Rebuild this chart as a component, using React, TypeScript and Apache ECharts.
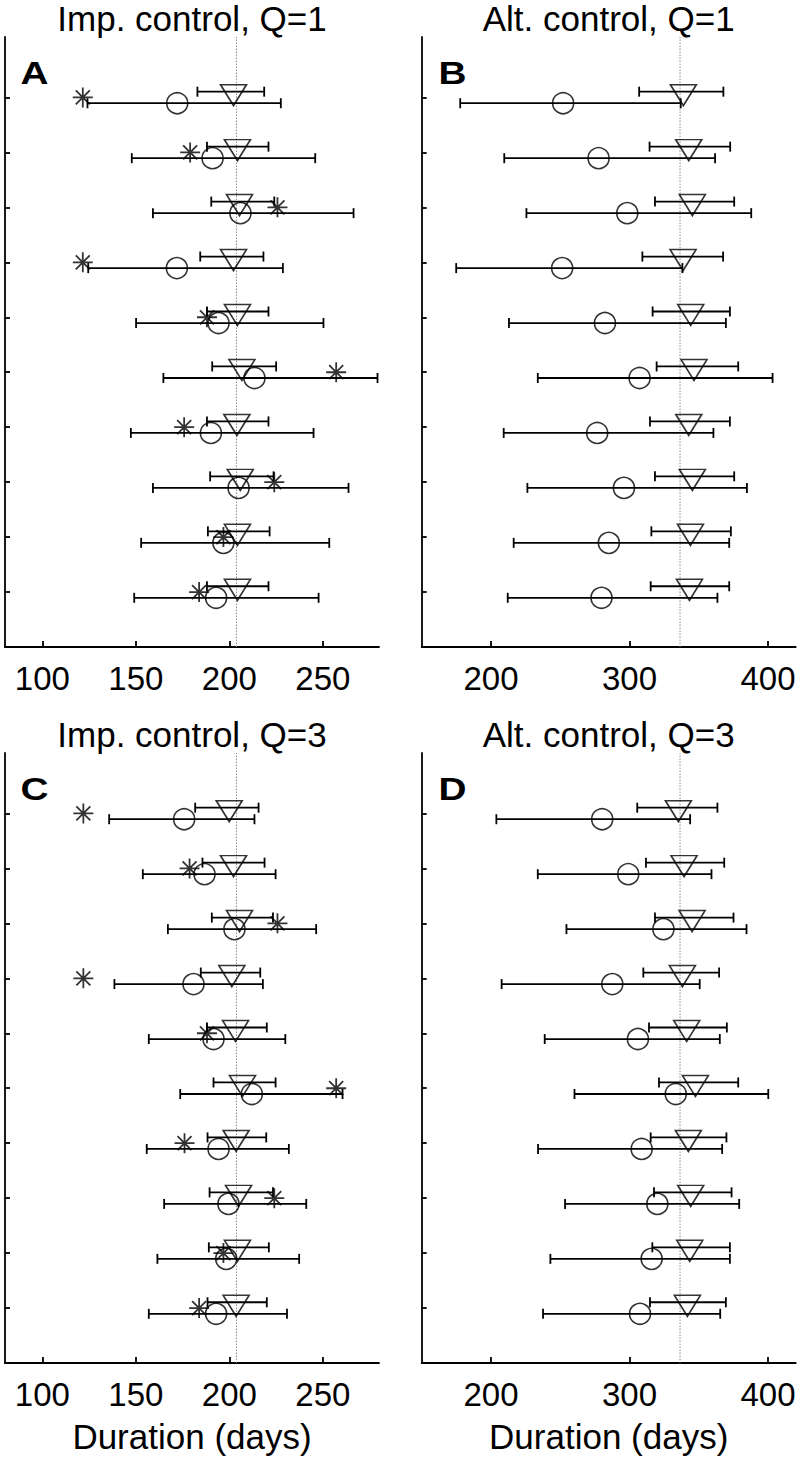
import React, { useEffect, useRef } from "react";
import * as echarts from "echarts";

// Row positions (top row = 10, bottom row = 1)
const ROWS = [10, 9, 8, 7, 6, 5, 4, 3, 2, 1];
const ROW_TICKS = [1, 2, 3, 4, 5, 6, 7, 8, 9, 10];

// Panel A: Imp. control, Q=1
const aTriMean = [202.2, 204.3, 205.4, 202.2, 204.3, 206.7, 204.0, 205.8, 204.3, 204.3];
const aTriLow = [182.9, 188.0, 190.3, 184.4, 188.0, 190.8, 188.0, 189.7, 188.5, 188.0];
const aTriHigh = [218.6, 220.9, 224.0, 218.2, 220.9, 225.0, 220.9, 223.6, 221.5, 220.9];
const aCircMean = [172.1, 191.0, 205.9, 171.9, 194.2, 213.4, 190.1, 204.9, 196.8, 192.9];
const aCircLow = [124.1, 147.8, 159.1, 124.5, 150.1, 164.7, 147.3, 159.1, 152.8, 149.1];
const aCircHigh = [227.5, 245.9, 266.4, 228.6, 250.3, 279.2, 245.0, 263.7, 253.4, 247.7];
const aStar = [121.6, 179.0, 225.7, 121.6, 188.0, 257.1, 175.8, 224.0, 196.8, 183.8];

// Panel B: Alt. control, Q=1
const bTriMean = [338.9, 342.8, 345.4, 338.7, 344.2, 346.6, 342.8, 345.4, 344.0, 343.3];
const bTriLow = [307.0, 314.5, 318.4, 309.3, 316.7, 319.6, 314.8, 318.4, 315.8, 315.3];
const bTriHigh = [367.8, 372.7, 375.6, 367.6, 372.5, 378.5, 372.5, 375.6, 373.2, 372.0];
const bCircMean = [252.1, 277.7, 298.4, 251.4, 282.3, 307.3, 276.7, 296.0, 285.1, 279.8];
const bCircLow = [177.8, 209.6, 225.6, 174.9, 213.0, 233.8, 209.2, 226.3, 216.4, 212.1];
const bCircHigh = [337.0, 361.8, 387.9, 338.2, 369.6, 403.3, 360.6, 384.8, 372.0, 363.5];

// Panel C: Imp. control, Q=3
const cTriMean = [199.9, 202.2, 205.4, 201.3, 203.3, 207.0, 203.6, 204.9, 204.3, 203.6];
const cTriLow = [181.7, 185.6, 190.6, 184.7, 188.0, 191.5, 188.3, 189.4, 189.0, 188.3];
const cTriHigh = [215.6, 218.8, 223.3, 216.5, 220.0, 224.7, 219.7, 223.3, 221.1, 220.0];
const cCircMean = [175.8, 186.7, 202.7, 180.8, 191.5, 212.0, 194.2, 199.5, 198.3, 192.9];
const cCircLow = [135.7, 153.7, 167.1, 138.5, 156.9, 173.7, 155.8, 165.1, 161.5, 156.9];
const cCircHigh = [213.4, 224.7, 246.4, 217.9, 229.9, 260.5, 231.8, 241.1, 237.3, 230.8];
const cStar = [121.9, 178.7, 225.7, 121.9, 188.0, 257.1, 176.0, 224.0, 196.8, 183.8];

// Panel D: Alt. control, Q=3
const dTriMean = [335.3, 339.4, 345.2, 338.2, 341.3, 347.6, 342.5, 344.2, 343.5, 341.8];
const dTriLow = [305.6, 311.9, 318.4, 310.0, 314.1, 321.3, 315.3, 317.7, 316.5, 314.8];
const dTriHigh = [363.5, 368.4, 375.1, 364.7, 370.3, 378.5, 370.0, 373.7, 372.5, 369.6];
const dCircMean = [280.3, 299.1, 324.5, 287.6, 306.1, 333.4, 308.8, 320.1, 316.0, 307.6];
const dCircLow = [203.9, 233.8, 254.5, 207.7, 238.8, 260.3, 234.0, 253.5, 242.9, 237.6];
const dCircHigh = [343.8, 359.2, 384.5, 350.7, 365.2, 400.2, 366.9, 379.2, 372.5, 365.5];

// Reference (dotted) lines
const refImp = 203.8;
const refAlt = 336.5;

// Axis ticks
const impTicks = [100, 150, 200, 250];
const altTicks = [200, 300, 400];
const impRange = [80, 280];
const altRange = [150, 420];
const Y_MAX = 11.1;
const OFFSET = 0.105;

const titles = ["Imp. control, Q=1", "Alt. control, Q=1", "Imp. control, Q=3", "Alt. control, Q=3"];
const letters = ["A", "B", "C", "D"];
const xLabel = "Duration (days)";

const FONT = '"Liberation Sans", Arial, sans-serif';

const TRI_PATH = "path://M0,0L26,0L13,21Z";
const STAR_PATH = "path://M10,0L10,20M0,10L20,10M3,3L17,17M17,3L3,17";

const LW = 1.8;

const errRender = (params: any, api: any) => {
  const lo = api.value(0);
  const hi = api.value(1);
  const y = api.value(2);
  const p1 = api.coord([lo, y]);
  const p2 = api.coord([hi, y]);
  const h = 5;
  const style = { stroke: "#000", lineWidth: LW, fill: "none" };
  return {
    type: "group",
    children: [
      { type: "line", shape: { x1: p1[0], y1: p1[1], x2: p2[0], y2: p2[1] }, style },
      { type: "line", shape: { x1: p1[0], y1: p1[1] - h, x2: p1[0], y2: p1[1] + h }, style },
      { type: "line", shape: { x1: p2[0], y1: p2[1] - h, x2: p2[0], y2: p2[1] + h }, style },
    ],
  };
};

type Panel = {
  triMean: number[];
  triLow: number[];
  triHigh: number[];
  circMean: number[];
  circLow: number[];
  circHigh: number[];
  star?: number[];
  ref: number;
  ticks: number[];
  range: number[];
  left: number;
  top: number;
};

const GRID_W = 374;
const GRID_H = 610;

const panels: Panel[] = [
  { triMean: aTriMean, triLow: aTriLow, triHigh: aTriHigh, circMean: aCircMean, circLow: aCircLow, circHigh: aCircHigh, star: aStar, ref: refImp, ticks: impTicks, range: impRange, left: 5, top: 37 },
  { triMean: bTriMean, triLow: bTriLow, triHigh: bTriHigh, circMean: bCircMean, circLow: bCircLow, circHigh: bCircHigh, ref: refAlt, ticks: altTicks, range: altRange, left: 421.7, top: 37 },
  { triMean: cTriMean, triLow: cTriLow, triHigh: cTriHigh, circMean: cCircMean, circLow: cCircLow, circHigh: cCircHigh, star: cStar, ref: refImp, ticks: impTicks, range: impRange, left: 5, top: 753 },
  { triMean: dTriMean, triLow: dTriLow, triHigh: dTriHigh, circMean: dCircMean, circLow: dCircLow, circHigh: dCircHigh, ref: refAlt, ticks: altTicks, range: altRange, left: 421.7, top: 753 },
];

function buildOption() {
  const grid: any[] = [];
  const xAxis: any[] = [];
  const yAxis: any[] = [];
  const series: any[] = [];
  const graphic: any[] = [];

  panels.forEach((p, i) => {
    grid.push({ left: p.left, top: p.top, width: GRID_W, height: GRID_H, containLabel: false });
    xAxis.push({
      gridIndex: i,
      type: "value",
      min: p.range[0],
      max: p.range[1],
      axisLine: { show: true, onZero: false, lineStyle: { color: "#000", width: LW } },
      axisTick: { show: true, inside: true, length: 6, customValues: p.ticks, lineStyle: { color: "#000", width: LW } },
      axisLabel: { show: true, customValues: p.ticks, color: "#000", fontSize: 33, fontFamily: FONT, margin: 15 },
      splitLine: { show: false },
    });
    yAxis.push({
      gridIndex: i,
      type: "value",
      min: 0,
      max: Y_MAX,
      axisLine: { show: true, onZero: false, lineStyle: { color: "#000", width: LW } },
      axisTick: { show: true, inside: true, length: 5, customValues: ROW_TICKS, lineStyle: { color: "#000", width: LW } },
      axisLabel: { show: false },
      splitLine: { show: false },
    });

    // dotted reference line
    series.push({
      type: "line",
      xAxisIndex: i,
      yAxisIndex: i,
      data: [[p.ref, 0], [p.ref, Y_MAX]],
      symbol: "none",
      silent: true,
      lineStyle: { color: "#8c8c8c", width: 1, type: [1.5, 1.5] },
      z: 1,
    });

    // error bars
    series.push({
      type: "custom",
      xAxisIndex: i,
      yAxisIndex: i,
      renderItem: errRender,
      silent: true,
      encode: { x: [0, 1], y: 2 },
      data: ROWS.map((r, k) => [p.triLow[k], p.triHigh[k], r + OFFSET]),
      z: 2,
    });
    series.push({
      type: "custom",
      xAxisIndex: i,
      yAxisIndex: i,
      renderItem: errRender,
      silent: true,
      encode: { x: [0, 1], y: 2 },
      data: ROWS.map((r, k) => [p.circLow[k], p.circHigh[k], r - OFFSET]),
      z: 2,
    });

    // triangles
    series.push({
      type: "scatter",
      xAxisIndex: i,
      yAxisIndex: i,
      symbol: TRI_PATH,
      symbolSize: [26, 21],
      symbolOffset: [0, 3.5],
      silent: true,
      itemStyle: { color: "rgba(0,0,0,0)", borderColor: "#000", borderWidth: 1.6 },
      data: ROWS.map((r, k) => [p.triMean[k], r + OFFSET]),
      z: 3,
    });
    // circles
    series.push({
      type: "scatter",
      xAxisIndex: i,
      yAxisIndex: i,
      symbol: "circle",
      symbolSize: 21,
      silent: true,
      itemStyle: { color: "rgba(0,0,0,0)", borderColor: "#000", borderWidth: 1.6 },
      data: ROWS.map((r, k) => [p.circMean[k], r - OFFSET]),
      z: 3,
    });
    // asterisks
    if (p.star) {
      const st = p.star;
      series.push({
        type: "scatter",
        xAxisIndex: i,
        yAxisIndex: i,
        symbol: STAR_PATH,
        symbolSize: 20,
        silent: true,
        itemStyle: { color: "rgba(0,0,0,0)", borderColor: "#000", borderWidth: 1.8 },
        data: ROWS.map((r, k) => [st[k], r]),
        z: 3,
      });
    }

    const cx = p.left + GRID_W / 2;
    // title
    graphic.push({
      type: "text",
      x: cx,
      y: p.top - 18.3,
      silent: true,
      style: {
        text: titles[i],
        fill: "#000",
        font: `35px ${FONT}`,
        align: "center",
        verticalAlign: "middle",
        textAlign: "center",
        textVerticalAlign: "middle",
      },
    });
    // panel letter
    graphic.push({
      type: "text",
      x: p.left + 15.5 + (i % 2 === 1 ? 1.4 : 0),
      y: p.top + 35.5,
      scaleX: 1.25,
      silent: true,
      style: {
        text: letters[i],
        fill: "#000",
        font: `bold 31px ${FONT}`,
        align: "left",
        verticalAlign: "middle",
        textAlign: "left",
        textVerticalAlign: "middle",
      },
    });
    // x label for bottom panels
    if (i >= 2) {
      graphic.push({
        type: "text",
        x: cx,
        y: p.top + GRID_H + 73,
        silent: true,
        style: {
          text: xLabel,
          fill: "#000",
          font: `35px ${FONT}`,
          align: "center",
          verticalAlign: "middle",
          textAlign: "center",
          textVerticalAlign: "middle",
        },
      });
    }
  });

  return {
    animation: false,
    backgroundColor: "#fff",
    grid,
    xAxis,
    yAxis,
    series,
    graphic,
  };
}

export default function App() {
  const ref = useRef<HTMLDivElement>(null);
  useEffect(() => {
    document.body.style.margin = "0";
    if (!ref.current) return;
    const chart = echarts.init(ref.current, undefined, { renderer: "svg" });
    chart.setOption(buildOption() as any);
    return () => {
      chart.dispose();
    };
  }, []);
  return <div ref={ref} style={{ width: 800, height: 1463, background: "#fff" }} />;
}
